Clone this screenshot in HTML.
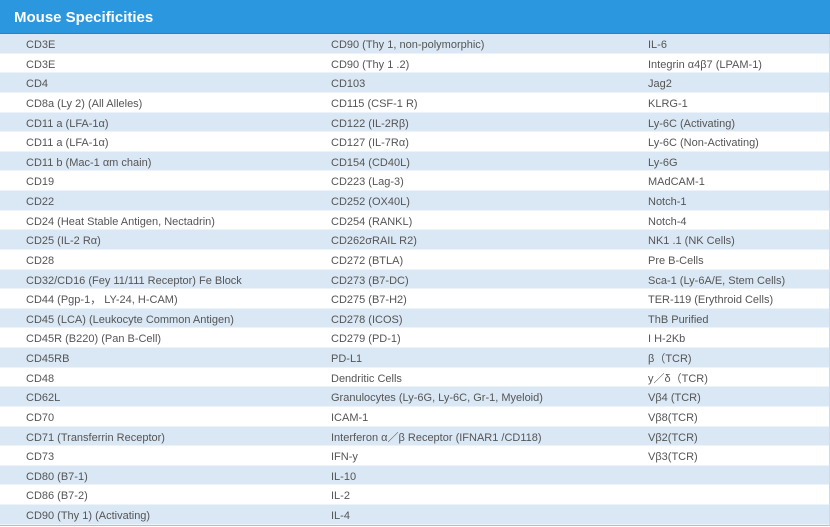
<!DOCTYPE html><html><head><meta charset="utf-8"><style>
body{margin:0;width:830px;height:526px;overflow:hidden;background:#fff;font-family:"Liberation Sans","Noto Sans CJK SC",sans-serif}
.h{height:34px;background:#2a97de;color:#fff;font-weight:bold;font-size:15px;line-height:36px;padding-left:14px;border-bottom:1px solid #1f86cc;box-sizing:border-box}
.r{height:19.64px;position:relative;font-size:11px;color:#555;line-height:19.64px;box-sizing:border-box;border-bottom:1px solid #eef3f9}
.r:nth-child(odd){background:#dae7f4}
.r span{position:absolute;top:2px;white-space:nowrap}
.a{left:26px}.b{left:331px}.c{left:648px}
.w{border-bottom:1px solid #a9c2d8;border-right:1px solid #cfdbe8}
</style></head><body><div class="h">Mouse Specificities</div><div class="w">
<div class="r"><span class="a">CD3E</span><span class="b">CD90 (Thy 1, non-polymorphic)</span><span class="c">IL-6</span></div>
<div class="r"><span class="a">CD3E</span><span class="b">CD90 (Thy 1 .2)</span><span class="c">Integrin α4β7 (LPAM-1)</span></div>
<div class="r"><span class="a">CD4</span><span class="b">CD103</span><span class="c">Jag2</span></div>
<div class="r"><span class="a">CD8a (Ly 2) (All Alleles)</span><span class="b">CD115 (CSF-1 R)</span><span class="c">KLRG-1</span></div>
<div class="r"><span class="a">CD11 a (LFA-1α)</span><span class="b">CD122 (IL-2Rβ)</span><span class="c">Ly-6C (Activating)</span></div>
<div class="r"><span class="a">CD11 a (LFA-1α)</span><span class="b">CD127 (IL-7Rα)</span><span class="c">Ly-6C (Non-Activating)</span></div>
<div class="r"><span class="a">CD11 b (Mac-1 αm chain)</span><span class="b">CD154 (CD40L)</span><span class="c">Ly-6G</span></div>
<div class="r"><span class="a">CD19</span><span class="b">CD223 (Lag-3)</span><span class="c">MAdCAM-1</span></div>
<div class="r"><span class="a">CD22</span><span class="b">CD252 (OX40L)</span><span class="c">Notch-1</span></div>
<div class="r"><span class="a">CD24 (Heat Stable Antigen, Nectadrin)</span><span class="b">CD254 (RANKL)</span><span class="c">Notch-4</span></div>
<div class="r"><span class="a">CD25 (IL-2 Rα)</span><span class="b">CD262σRAIL R2)</span><span class="c">NK1 .1 (NK Cells)</span></div>
<div class="r"><span class="a">CD28</span><span class="b">CD272 (BTLA)</span><span class="c">Pre B-Cells</span></div>
<div class="r"><span class="a">CD32/CD16 (Fey 11/111 Receptor) Fe Block</span><span class="b">CD273 (B7-DC)</span><span class="c">Sca-1 (Ly-6A/E, Stem Cells)</span></div>
<div class="r"><span class="a">CD44 (Pgp-1， LY-24, H-CAM)</span><span class="b">CD275 (B7-H2)</span><span class="c">TER-119 (Erythroid Cells)</span></div>
<div class="r"><span class="a">CD45 (LCA) (Leukocyte Common Antigen)</span><span class="b">CD278 (ICOS)</span><span class="c">ThB Purified</span></div>
<div class="r"><span class="a">CD45R (B220) (Pan B-Cell)</span><span class="b">CD279 (PD-1)</span><span class="c">I H-2Kb</span></div>
<div class="r"><span class="a">CD45RB</span><span class="b">PD-L1</span><span class="c">β（TCR)</span></div>
<div class="r"><span class="a">CD48</span><span class="b">Dendritic Cells</span><span class="c">y／δ（TCR)</span></div>
<div class="r"><span class="a">CD62L</span><span class="b">Granulocytes (Ly-6G, Ly-6C, Gr-1, Myeloid)</span><span class="c">Vβ4 (TCR)</span></div>
<div class="r"><span class="a">CD70</span><span class="b">ICAM-1</span><span class="c">Vβ8(TCR)</span></div>
<div class="r"><span class="a">CD71 (Transferrin Receptor)</span><span class="b">Interferon α／β Receptor (IFNAR1 /CD118)</span><span class="c">Vβ2(TCR)</span></div>
<div class="r"><span class="a">CD73</span><span class="b">IFN-y</span><span class="c">Vβ3(TCR)</span></div>
<div class="r"><span class="a">CD80 (B7-1)</span><span class="b">IL-10</span></div>
<div class="r"><span class="a">CD86 (B7-2)</span><span class="b">IL-2</span></div>
<div class="r"><span class="a">CD90 (Thy 1) (Activating)</span><span class="b">IL-4</span></div>
</div></body></html>
